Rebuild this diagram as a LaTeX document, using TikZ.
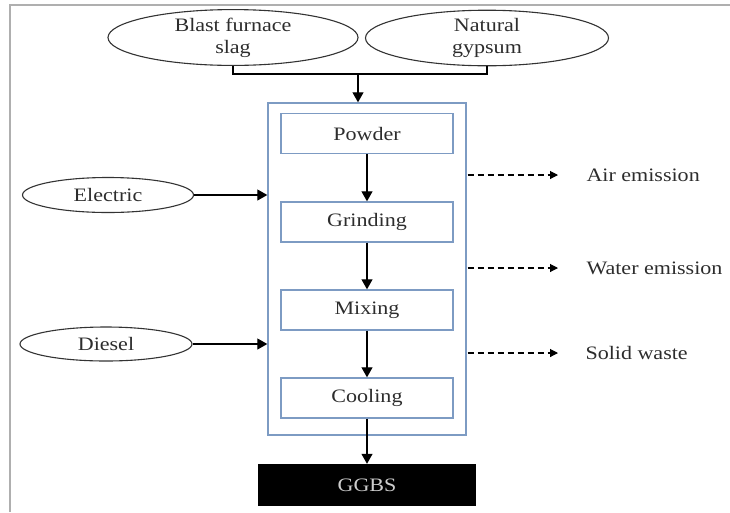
\documentclass[tikz,border=0pt]{standalone}
\usepackage{fontspec}
\setmainfont{Liberation Serif}[FakeStretch=1.16]
\usepackage{tikz}
\usetikzlibrary{positioning}
\usetikzlibrary{calc}
\usetikzlibrary{arrows.meta}
\usetikzlibrary{shapes.geometric}
\definecolor{frameblue}{RGB}{125,155,195}
\definecolor{framegray}{RGB}{175,175,175}
\definecolor{ggbstext}{RGB}{205,205,205}
\definecolor{inktext}{RGB}{45,45,45}

\begin{document}
\begin{tikzpicture}[x=1pt,y=-1pt,
	every node/.style={font=\fontsize{19}{22}\selectfont,text=inktext},
	source/.style={ellipse,draw=black!80,line width=1.1pt,inner sep=0pt,align=center},
	stagebox/.style={rectangle,draw=frameblue,line width=1.4pt,minimum width=172pt,minimum height=40pt,inner sep=0pt},
	flow/.style={line width=1.1pt,-{Triangle[length=10pt,width=11pt]}},
	emit/.style={line width=1.1pt,dash pattern=on 6pt off 4pt,-{Triangle[length=8pt,width=8pt]}}]
						\useasboundingbox (0,0) rectangle (730,512);
						\draw[line width=2pt,color=framegray] (10,512) -- (10,5) -- (730,5);
						
						% inputs
						\node[source,minimum width=250pt,minimum height=49pt] (slag) at (233,37.5) {Blast furnace\\slag};
						\node[source,minimum width=243pt,minimum height=50pt] (gypsum) at (487,38) {Natural\\gypsum};
						\node[source,minimum width=171pt,minimum height=35pt] (elec) at (108,195) {Electric};
						\node[source,minimum width=172pt,minimum height=34pt] (diesel) at (106,344) {Diesel};
						
						% process
						\node[rectangle,draw=frameblue,line width=1.4pt,minimum width=198pt,minimum height=332pt] (proc) at (367,269) {};
						\node[stagebox] (powder) at (367,133.5) {Powder};
						\node[stagebox] (grind) at (367,222) {Grinding};
						\node[stagebox] (mix) at (367,310) {Mixing};
						\node[stagebox] (cool) at (367,398) {Cooling};
						\node[rectangle,fill=black,minimum width=218pt,minimum height=42pt,text=ggbstext] (ggbs) at (367,485) {GGBS};
						
						% outputs
						\node[anchor=west] (air) at (583,175) {Air emission};
						\node[anchor=west] (water) at (583,268) {Water emission};
						\node[anchor=west] (solid) at (582,353) {Solid waste};
						
						\coordinate (join) at (358,74);
						\draw[line width=1.1pt] (slag.south) |- (join) -| (gypsum.south);
						\draw[flow] (join) -- (join |- proc.north);
						\draw[flow] (elec.east) -- (elec.east -| proc.west);
						\draw[flow] (diesel.east) -- (diesel.east -| proc.west);
						\draw[flow] (powder) -- (grind);
						\draw[flow] (grind) -- (mix);
						\draw[flow] (mix) -- (cool);
						\draw[flow] (cool) -- (ggbs);
						
						\draw[emit] ([xshift=1pt]proc.east |- air.west) -- ([xshift=-25pt]air.west);
						\draw[emit] ([xshift=1pt]proc.east |- water.west) -- ([xshift=-25pt]water.west);
						\draw[emit] ([xshift=1pt]proc.east |- solid.west) -- ([xshift=-24pt]solid.west);
				\end{tikzpicture}
\end{document}
